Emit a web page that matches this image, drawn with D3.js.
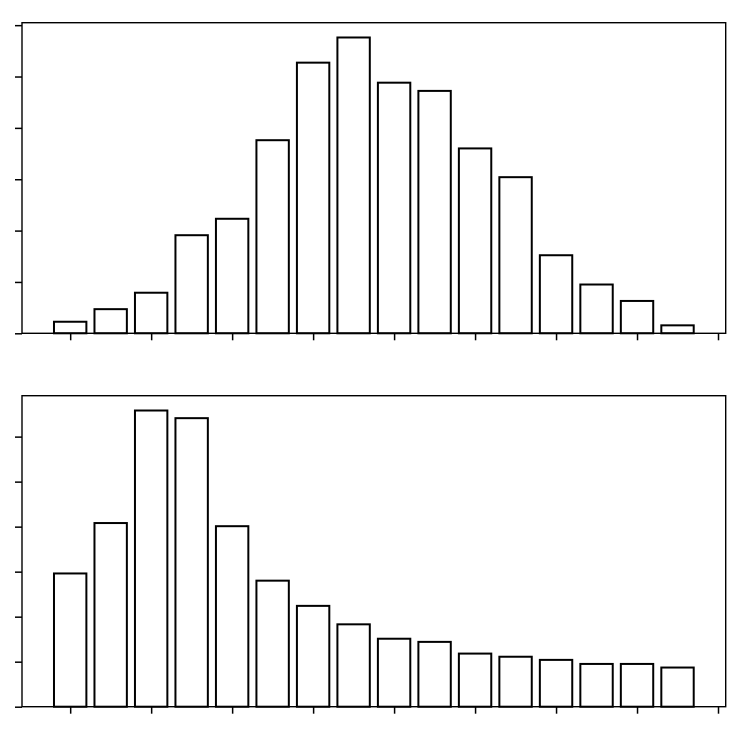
<!DOCTYPE html>
<html>
<head>
<meta charset="utf-8">
<script src="https://cdn.jsdelivr.net/npm/d3@7"></script>
<style>
  html, body { margin: 0; padding: 0; background: #fff; }
  svg { display: block; }
</style>
</head>
<body>
<svg id="chart" width="748" height="730"></svg>
<script>
// ---- data ----
const bins = d3.range(16);                // bar positions 0..15
const topValues = [0.225, 0.47, 0.79, 1.91, 2.23, 3.76, 5.27, 5.76,
                   4.88, 4.72, 3.60, 3.04, 1.52, 0.95, 0.63, 0.155];
const bottomValues = [2.96, 4.08, 6.58, 6.41, 4.01, 2.80, 2.24, 1.83,
                      1.51, 1.44, 1.18, 1.11, 1.04, 0.95, 0.95, 0.87];
const xTickValues = [0, 2, 4, 6, 8, 10, 12, 14, 16];
const yTickValues = [0, 1, 2, 3, 4, 5, 6];

// ---- layout ----
const svg = d3.select("#chart");
const left = 22, right = 725.7;
const panels = [
  { values: topValues,    top: 22.7,  bottom: 333.3 },
  { values: bottomValues, top: 395.7, bottom: 706.7 }
];
const barW = 0.8;
const first = bins[0] - barW / 2, last = bins[bins.length - 1] + barW / 2;
const pad = 0.05 * (last - first);
const x = d3.scaleLinear().domain([first - pad, last + pad]).range([left, right]);

panels.forEach(p => {
  const y = d3.scaleLinear()
    .domain([0, d3.max(p.values) * 1.05])
    .range([p.bottom, p.top]);
  const g = svg.append("g");

  g.selectAll("rect.bar")
    .data(p.values)
    .join("rect")
    .attr("class", "bar")
    .attr("x", (d, i) => x(bins[i] - barW / 2))
    .attr("width", (d, i) => x(bins[i] + barW / 2) - x(bins[i] - barW / 2))
    .attr("y", d => y(d))
    .attr("height", d => y(0) - y(d))
    .attr("fill", "#fff")
    .attr("stroke", "#000")
    .attr("stroke-width", 2);

  // frame
  g.append("rect")
    .attr("x", left).attr("y", p.top)
    .attr("width", right - left).attr("height", p.bottom - p.top)
    .attr("fill", "none").attr("stroke", "#000").attr("stroke-width", 1.4);

  const xa = g.append("g").attr("transform", `translate(0,${p.bottom})`)
    .call(d3.axisBottom(x).tickValues(xTickValues).tickFormat("").tickSize(7).tickSizeOuter(0));
  xa.select(".domain").remove();
  xa.selectAll(".tick line").attr("stroke", "#000").attr("stroke-width", 1.5);

  const ya = g.append("g").attr("transform", `translate(${left},0)`)
    .call(d3.axisLeft(y).tickValues(yTickValues).tickFormat("").tickSize(7).tickSizeOuter(0));
  ya.select(".domain").remove();
  ya.selectAll(".tick line").attr("stroke", "#000").attr("stroke-width", 1.5);
});
</script>
</body>
</html>
